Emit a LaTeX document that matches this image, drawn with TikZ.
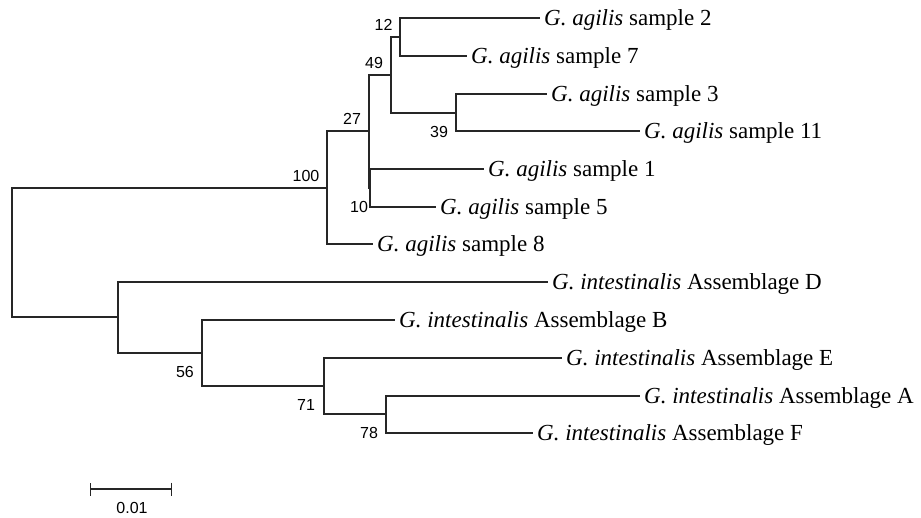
\documentclass[tikz,border=0pt]{standalone}
\usepackage{fontspec}
\setmainfont{Liberation Serif}
\newfontfamily\numfont{Liberation Sans}
\usetikzlibrary{arrows.meta}
\tikzset{
  branch/.style={draw=black!85, line width=1.2pt},
  leaf/.style={anchor=west, inner xsep=4pt, inner ysep=0pt, text height=15pt, text depth=0pt, font=\fontsize{23}{27}\selectfont},
  boot/.style={anchor=center, inner sep=0pt, font=\numfont\fontsize{16}{19}\selectfont},
}
\newcommand{\Gsp}[1]{\textit{G. #1}}
\begin{document}
\begin{tikzpicture}[x=1pt,y=-1pt]
\useasboundingbox (0,0) rectangle (921,518);
% internal nodes
\coordinate (root) at (12,252);
\coordinate (n100) at (327,188);
\coordinate (n27) at (369,131);
\coordinate (n49) at (391,75);
\coordinate (n12) at (400,37);
\coordinate (n39) at (456,113);
\coordinate (n10) at (370,188);
\coordinate (nint) at (118,317);
\coordinate (n56) at (202,353);
\coordinate (n71) at (324,386);
\coordinate (n78) at (386,414);
% leaves
\node[leaf] (s2) at (540,18) {\Gsp{agilis} sample 2};
\node[leaf] (s7) at (467,56) {\Gsp{agilis} sample 7};
\node[leaf] (s3) at (547,94) {\Gsp{agilis} sample 3};
\node[leaf] (s11) at (640,131) {\Gsp{agilis} sample 11};
\node[leaf] (s1) at (484,169) {\Gsp{agilis} sample 1};
\node[leaf] (s5) at (436,207) {\Gsp{agilis} sample 5};
\node[leaf] (s8) at (373,244) {\Gsp{agilis} sample 8};
\node[leaf] (aD) at (548,282) {\Gsp{intestinalis} Assemblage D};
\node[leaf] (aB) at (395,320) {\Gsp{intestinalis} Assemblage B};
\node[leaf] (aE) at (562,358) {\Gsp{intestinalis} Assemblage E};
\node[leaf] (aA) at (640,396) {\Gsp{intestinalis} Assemblage A};
\node[leaf] (aF) at (533,433) {\Gsp{intestinalis} Assemblage F};
% branches
\draw[branch] (root) |- (n100);
\draw[branch] (root) |- (nint);
\draw[branch] (n100) |- (n27);
\draw[branch] (n100) |- (s8.west);
\draw[branch] (n27) |- (n49);
\draw[branch] (n27) |- (n10);
\draw[branch] (n49) |- (n12);
\draw[branch] (n49) |- (n39);
\draw[branch] (n12) |- (s2.west);
\draw[branch] (n12) |- (s7.west);
\draw[branch] (n39) |- (s3.west);
\draw[branch] (n39) |- (s11.west);
\draw[branch] (n10) |- (s1.west);
\draw[branch] (n10) |- (s5.west);
\draw[branch] (nint) |- (aD.west);
\draw[branch] (nint) |- (n56);
\draw[branch] (n56) |- (aB.west);
\draw[branch] (n56) |- (n71);
\draw[branch] (n71) |- (aE.west);
\draw[branch] (n71) |- (n78);
\draw[branch] (n78) |- (aA.west);
\draw[branch] (n78) |- (aF.west);
% bootstrap values
\node[boot] (b12) at (383.5,25) {12};
\node[boot] (b49) at (374,63) {49};
\node[boot] (b27) at (352,119) {27};
\node[boot] (b39) at (439,132) {39};
\node[boot] (b100) at (306,176) {100};
\node[boot] (b10) at (359,207) {10};
\node[boot] (b56) at (185,372) {56};
\node[boot] (b71) at (306,405) {71};
\node[boot] (b78) at (369,433) {78};
% scale bar
\coordinate (sbl) at (90,489);
\coordinate (sbr) at (172,489);
\draw[branch, {Bar[width=13pt]}-{Bar[width=13pt]}] (sbl) -- (sbr);
\node[boot] (sblab) at (132,508) {0.01};
\end{tikzpicture}
\end{document}
